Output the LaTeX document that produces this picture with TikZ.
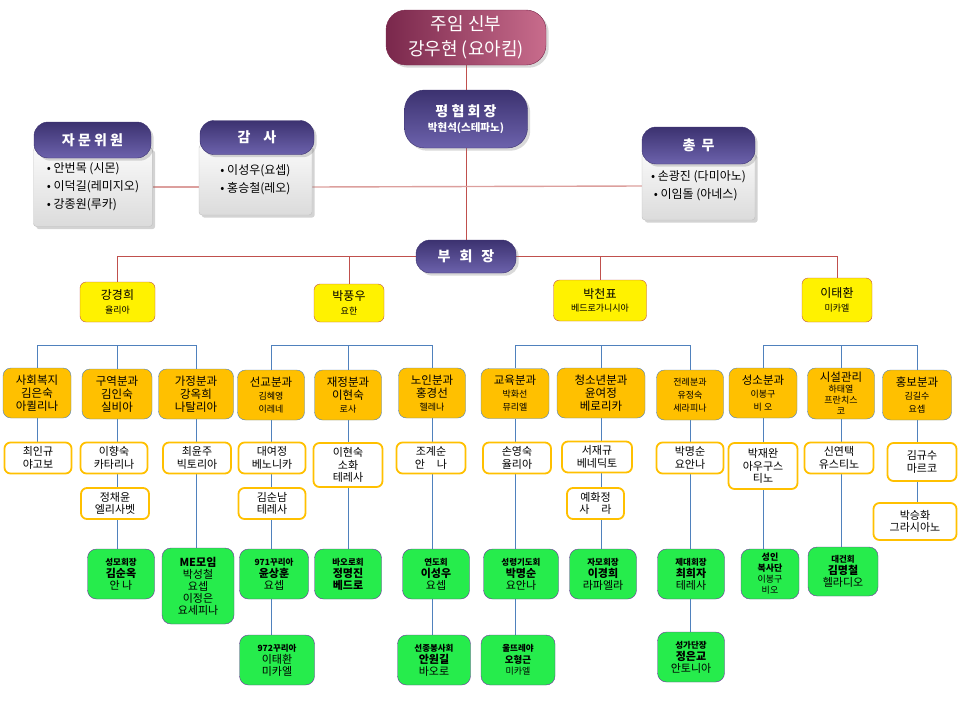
\documentclass[tikz,border=0pt]{standalone}
\usepackage{fontspec}
\setmainfont{Noto Sans CJK KR}
\usetikzlibrary{positioning, backgrounds, shadows, calc}

\definecolor{vicered}{RGB}{192,80,77}
\definecolor{divblue}{RGB}{79,129,189}
\definecolor{divorange}{RGB}{255,192,0}
\definecolor{clubgreen}{RGB}{38,236,76}
\definecolor{clubpurple}{RGB}{112,48,160}
\definecolor{pilldark}{RGB}{60,50,112}
\definecolor{pilllight}{RGB}{108,98,172}
\definecolor{priestdark}{RGB}{122,40,76}
\definecolor{priestlight}{RGB}{200,108,140}

\newcommand{\subtxt}{\fontsize{9}{11}\selectfont}
\newcommand{\tinytxt}{\fontsize{8.5}{10}\selectfont\bfseries}

\begin{document}
\begin{tikzpicture}[
    x=1pt, y=-1pt,
    % === STYLES ===
    priest/.style={
        rounded corners=20pt,
        left color=priestdark,
        right color=priestlight,
        draw=priestdark,
        text=white,
        minimum width=160pt,
        minimum height=55pt,
        align=center,
        inner sep=0pt,
        font=\fontsize{18}{25}\selectfont,
        drop shadow={opacity=0.3}
    },
    pill/.style={
        rounded corners=14pt,
        top color=pilldark,
        bottom color=pilllight,
        draw=pilldark,
        text=white,
        align=center,
        inner sep=0pt,
        font=\fontsize{14}{16}\selectfont\bfseries,
        drop shadow={opacity=0.3}
    },
    panel/.style={
        draw=gray!50,
        top color=gray!4,
        bottom color=gray!28,
        rounded corners=3pt,
        align=left,
        inner sep=0pt,
        font=\fontsize{12}{18}\selectfont,
        drop shadow={opacity=0.35}
    },
    vice/.style={
        draw=vicered,
        fill=yellow,
        rounded corners=6pt,
        align=center,
        inner sep=0pt,
        font=\fontsize{12}{13.5}\selectfont
    },
    division/.style={
        draw=divblue,
        fill=divorange,
        rounded corners=8pt,
        align=center,
        inner sep=0pt,
        minimum height=50pt,
        font=\fontsize{11.5}{13}\selectfont
    },
    member/.style={
        draw=divorange,
        line width=1.8pt,
        fill=white,
        rounded corners=6pt,
        align=center,
        inner sep=0pt,
        minimum height=31pt,
        font=\fontsize{11}{12.5}\selectfont
    },
    club/.style={
        draw=clubpurple,
        fill=clubgreen,
        rounded corners=9pt,
        align=center,
        inner sep=0pt,
        minimum height=50pt,
        font=\fontsize{11}{12}\selectfont
    },
    redline/.style={draw=vicered, line width=0.9pt},
    pinkline/.style={draw=vicered!55, line width=1.4pt},
    blueline/.style={draw=divblue, line width=0.9pt}
]
\useasboundingbox (0,0) rectangle (960,720);

% === PASTOR AND COUNCIL ===
\node[priest] (juim) at (466,37.5) {주임 신부\\강우현 (요아킴)};
\node[pill, minimum width=123pt, minimum height=58pt, rounded corners=20pt] (pyeong) at (466,119)
    {평 협 회 장\\[-1pt]{\fontsize{10.5}{12}\selectfont 박현석(스테파노)}};
\node[pill, minimum width=100pt, minimum height=33pt] (buhoe) at (466,256.5) {부\hspace{9pt}회\hspace{9pt}장};

% advisers, auditors, general affairs
\node[panel, minimum width=119pt, minimum height=79pt] (jamunbody) at (93,187)
    {• 안번목 (시몬)\\• 이덕길(레미지오)\\• 강종원(루카)};
\node[pill, minimum width=117pt, minimum height=36pt] (jamunhead) at (92.5,140) {자 문 위 원};

\node[panel, minimum width=113pt, minimum height=70pt] (gamsabody) at (255.5,180)
    {• 이성우(요셉)\\• 홍승철(레오)};
\node[pill, minimum width=114pt, minimum height=34pt] (gamsahead) at (257,137.5) {감\hspace{13pt}사};

\node[panel, minimum width=113pt, minimum height=68pt] (chongmubody) at (698.5,186)
    {• 손광진 (다미아노)\\\ • 이임돌 (아네스)};
\node[pill, minimum width=113pt, minimum height=37pt] (chongmuhead) at (698.5,145.5) {총\hspace{6pt}무};

% === VICE PRESIDENTS ===
\node[vice, minimum width=75pt, minimum height=40pt] (kang) at (117.5,302) {강경희\\{\subtxt 율리아}};
\node[vice, minimum width=70pt, minimum height=38pt] (parkp) at (349,303) {박풍우\\{\subtxt 요한}};
\node[vice, minimum width=93pt, minimum height=41pt] (parkc) at (600,300.5) {박천표\\{\subtxt 베드로가니시아}};
\node[vice, minimum width=70pt, minimum height=44pt] (leet) at (837,300) {이태환\\{\subtxt 미카엘}};

% === DIVISIONS ===
\node[division, minimum width=68pt] (sahoe) at (37,393) {사회복지\\김은숙\\아퀼리나};
\node[division, minimum width=70pt] (gujeok) at (117,394) {구역분과\\김인숙\\실비아};
\node[division, minimum width=75pt] (gajeong) at (196,394) {가정분과\\강옥희\\나탈리아};
\node[division, minimum width=67pt] (seongyo) at (271,395) {선교분과\\{\subtxt 김혜영}\\{\subtxt 이레네}};
\node[division, minimum width=67pt] (jaejeong) at (348,395) {재정분과\\이현숙\\{\subtxt 로사}};
\node[division, minimum width=67pt] (noin) at (432,393) {노인분과\\홍경선\\{\subtxt 헬레나}};
\node[division, minimum width=68pt] (gyoyuk) at (515,393.5) {교육분과\\{\subtxt 박화선}\\{\subtxt 뮤리엘}};
\node[division, minimum width=88pt] (cheongso) at (601,393) {청소년분과\\윤여정\\베로리카};
\node[division, minimum width=67pt] (jeollye) at (690,395) {{\subtxt 전례분과}\\{\subtxt 유정숙}\\{\subtxt 세라피나}};
\node[division, minimum width=68pt] (seongso) at (763,393) {성소분과\\{\subtxt 이봉구}\\{\subtxt 비 오}};
\node[division, minimum width=67pt, minimum height=51pt] (siseol) at (841,393.5)
    {시설관리\\[-2pt]{\subtxt 하태열}\\[-2pt]{\subtxt 프란치스}\\[-2pt]{\subtxt 코}};
\node[division, minimum width=69pt] (hongbo) at (917,395) {홍보분과\\{\subtxt 김길수}\\{\subtxt 요셉}};

% === MEMBERS ===
\node[member, minimum width=67pt] (choiik) at (38,458) {최인규\\야고보};
\node[member, minimum width=67pt] (leehs) at (114,458) {이향숙\\카타리나};
\node[member, minimum width=68pt] (jeongcy) at (115,503.5) {정채윤\\엘리사벳};
\node[member, minimum width=68pt] (choiyj) at (197,458) {최윤주\\빅토리아};
\node[member, minimum width=67pt] (daeyj) at (272,458) {대여정\\베노니카};
\node[member, minimum width=67pt] (kimsn) at (272,503.5) {김순남\\테레사};
\node[member, minimum width=69pt, minimum height=44pt] (leehsk) at (348,465) {이현숙\\소화\\테레사};
\node[member, minimum width=69pt] (jogs) at (431,458) {조계순\\안\hspace{12pt}나};
\node[member, minimum width=68pt] (sonys) at (517,458) {손영숙\\율리아};
\node[member, minimum width=70pt] (seojg) at (597,457) {서재규\\베네딕토};
\node[member, minimum width=57pt] (yehj) at (595.5,503.5) {예화정\\사\hspace{12pt}라};
\node[member, minimum width=67pt] (parkms) at (690,458) {박명순\\요안나};
\node[member, minimum width=69pt, minimum height=46pt] (parkjw) at (763,466) {박재완\\아우구스\\티노};
\node[member, minimum width=69pt] (sinyt) at (839,458) {신연택\\유스티노};
\node[member, minimum width=69pt, minimum height=38pt] (kimgs) at (922,462) {김규수\\마르코};
\node[member, minimum width=83pt, minimum height=37pt] (parksh) at (915,521.5) {박승화\\그라시아노};

% === CLUBS ===
\node[club, minimum width=67pt] (seongmo) at (121,574) {{\tinytxt 성모회장}\\\textbf{김순옥}\\안 나};
\node[club, minimum width=72pt, minimum height=76pt] (memo) at (198,586)
    {\textbf{ME모임}\\박성철\hspace{6pt}\\요셉\hspace{8pt}\\이정은\hspace{6pt}\\요세피나};
\node[club, minimum width=69pt] (kkuria1) at (274,574) {{\tinytxt 971꾸리아}\\\textbf{윤상훈}\\요셉};
\node[club, minimum width=67pt] (baoro) at (348,574) {{\tinytxt 바오로회}\\\textbf{정명진}\\\textbf{베드로}};
\node[club, minimum width=67pt] (yeondo) at (436,574) {{\tinytxt 연도회}\\\textbf{이성우}\\요셉};
\node[club, minimum width=75pt] (seongryeong) at (521,574) {{\tinytxt 성령기도회}\\\textbf{박명순}\\요안나};
\node[club, minimum width=67pt] (jamo) at (603,574) {{\tinytxt 자모회장}\\\textbf{이경희}\\라파엘라};
\node[club, minimum width=67pt] (jedae) at (691,574) {{\tinytxt 제대회장}\\\textbf{최희자}\\테레사};
\node[club, minimum width=58pt, font=\fontsize{9}{11}\selectfont] (boksa) at (770,574) {\textbf{성인}\\\textbf{복사단}\\이봉구\\비오};
\node[club, minimum width=70pt, minimum height=49pt] (daegeon) at (843,571.5) {{\tinytxt 대건회}\\\textbf{김명철}\\헬라디오};
\node[club, minimum width=75pt] (kkuria2) at (277,660) {{\tinytxt 972꾸리아}\\이태환\\미카엘};
\node[club, minimum width=73pt] (seonjong) at (434,660) {{\tinytxt 선종봉사회}\\\textbf{안원길}\\바오로};
\node[club, minimum width=74pt, font=\fontsize{9.5}{11.5}\selectfont] (ulttre) at (518,660) {{\tinytxt 울뜨레야}\\\textbf{오형근}\\{\subtxt 미카엘}};
\node[club, minimum width=67pt] (seongga) at (691,657) {{\tinytxt 성가단장}\\\textbf{정은교}\\안토니아};

% === CONNECTIONS ===
\begin{scope}[on background layer]
    % pastor to vice presidents
    \draw[redline] (juim.south) -- (pyeong.north);
    \draw[redline] (pyeong.south) -- (buhoe.north);
    \draw[pinkline] (jamunbody.east) -- (jamunbody.east -| gamsabody.west);
    \draw[pinkline] (gamsabody.east |- jamunbody.east) -- (chongmubody.west);
    \draw[redline] (kang.north) |- (buhoe.center) -| (leet.north);
    \draw[redline] (parkp.north) -- (parkp.north |- buhoe.center);
    \draw[redline] (parkc.north) -- (parkc.north |- buhoe.center);

    % division bars
    \coordinate (bar) at (0,345);
    \foreach \leftd/\midd/\rightd in {sahoe/gujeok/gajeong, seongyo/jaejeong/noin,
        gyoyuk/cheongso/jeollye, seongso/siseol/hongbo} {
        \draw[blueline] (\leftd.north) -- (\leftd.north |- bar) -| (\rightd.north);
        \draw[blueline] (\midd.north) -- (\midd.north |- bar);
    }

    % columns down to the last box
    \foreach \src/\dst in {sahoe/choiik, gujeok/seongmo, gajeong/memo, seongyo/kkuria2,
        jaejeong/baoro, noin/seonjong, gyoyuk/ulttre, cheongso/jamo, jeollye/seongga,
        seongso/boksa, siseol/daegeon, hongbo/parksh} {
        \draw[blueline] (\src.south) -- (\src.south |- \dst.north);
    }
\end{scope}

\end{tikzpicture}
\end{document}
